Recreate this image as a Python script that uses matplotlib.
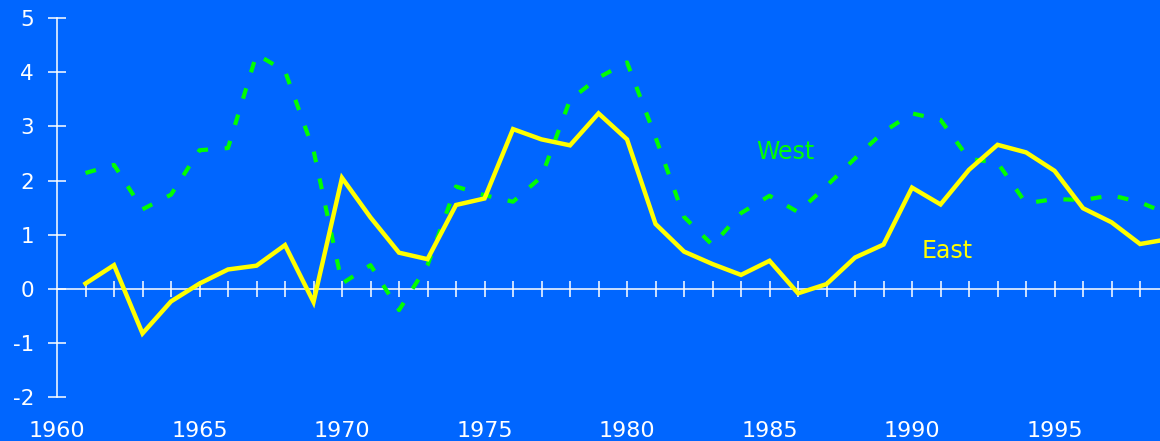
import numpy as np
import matplotlib
matplotlib.use('Agg')
import matplotlib.pyplot as plt

# Data
years = list(range(1961, 2000))
east = [0.10, 0.44, -0.82, -0.23, 0.10, 0.36, 0.43, 0.81, -0.24, 2.05,
        1.32, 0.67, 0.55, 1.55, 1.67, 2.95, 2.76, 2.65, 3.24, 2.76,
        1.20, 0.69, 0.46, 0.26, 0.52, -0.08, 0.09, 0.58, 0.82, 1.87,
        1.56, 2.20, 2.66, 2.52, 2.18, 1.49, 1.23, 0.83, 0.92]
west = [2.14, 2.29, 1.47, 1.74, 2.56, 2.60, 4.33, 4.02, 2.56, 0.10,
        0.44, -0.39, 0.44, 1.89, 1.73, 1.61, 2.07, 3.49, 3.90, 4.18,
        2.80, 1.33, 0.81, 1.40, 1.72, 1.42, 1.90, 2.41, 2.90, 3.24,
        3.12, 2.40, 2.33, 1.58, 1.66, 1.64, 1.73, 1.60, 1.38]
xlabels = [1960, 1965, 1970, 1975, 1980, 1985, 1990, 1995]
ylabels = [-2, -1, 0, 1, 2, 3, 4, 5]

bg = '#0066ff'
yellow = '#ffff00'
green = '#00ff00'

# the reference lettering is wide, DejaVu Sans gets the proportions closest
plt.rcParams['font.family'] = ['DejaVu Sans']

fig = plt.figure(figsize=(11.6, 4.41), dpi=100, facecolor=bg)
ax = fig.add_axes([57 / 1160, 16.5 / 441, 1103 / 1160, 422.8 / 441])
ax.set_facecolor(bg)
ax.set_xlim(1960, 1998.7)
ax.set_ylim(-2.5, 5.3)

ax.plot(years, west, color=green, lw=3.0, linestyle=(0, (2.6, 4.0)),
        dash_capstyle='butt', zorder=3)
ax.plot(years, east, color=yellow, lw=3.2, solid_joinstyle='miter', zorder=4)

# axes styling
for s in ['top', 'right']:
    ax.spines[s].set_visible(False)
ax.spines['left'].set_position(('data', 1960))
ax.spines['left'].set_bounds(-2, 5)
ax.spines['left'].set_color('white')
ax.spines['left'].set_linewidth(1.1)
ax.spines['bottom'].set_position(('data', 0))
ax.spines['bottom'].set_color('white')
ax.spines['bottom'].set_linewidth(1.1)

ax.set_yticks(ylabels)
ax.set_yticklabels([str(v) for v in ylabels])
ax.tick_params(axis='y', direction='inout', length=13, width=1.1,
               color='white', labelcolor='white', labelsize=15.5, pad=10)
ax.set_xticks(range(1961, 1999))
ax.tick_params(axis='x', direction='inout', length=11, width=1.1,
               color='white', labelbottom=False)

for yr in xlabels:
    ax.text(yr, -2.62, str(yr), color='white', fontsize=16,
            ha='center', va='center', clip_on=False)

ax.text(1984.54, 2.53, 'West', color=green, fontsize=17, ha='left', va='center')
ax.text(1990.35, 0.70, 'East', color=yellow, fontsize=17, ha='left', va='center')

fig.savefig('out.png', dpi=100, facecolor=bg)
